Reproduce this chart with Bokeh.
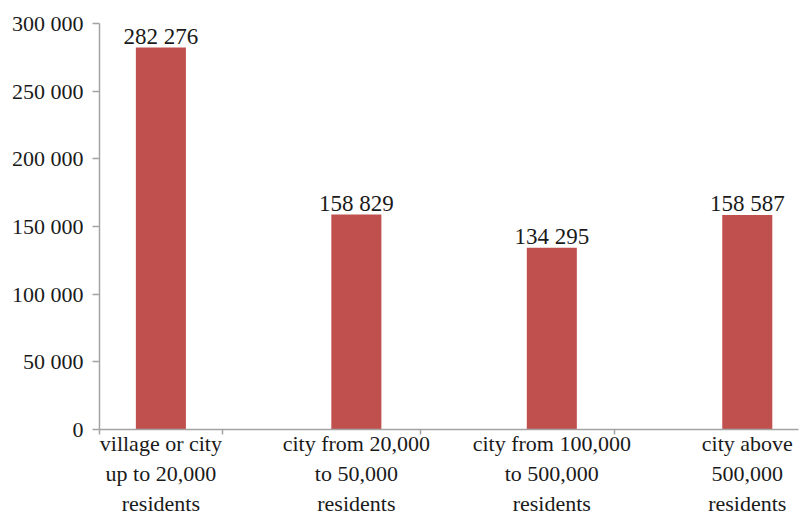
from bokeh.plotting import figure
from bokeh.models import Range1d, FixedTicker, ColumnDataSource
from bokeh.embed import file_html
from bokeh.resources import INLINE
from bokeh.core.properties import value

categories = ["village or city\nup to 20,000\nresidents",
              "city from 20,000\nto 50,000\nresidents",
              "city from 100,000\nto 500,000\nresidents",
              "city above\n500,000\nresidents"]
values = [282276, 158829, 134295, 158587]
value_labels = ["282 276", "158 829", "134 295", "158 587"]
y_ticks = [0, 50000, 100000, 150000, 200000, 250000, 300000]
y_tick_labels = ["0", "50 000", "100 000", "150 000", "200 000", "250 000", "300 000"]

FONT = "Liberation Serif"
TXT = "#1a1a1a"
AX = "#a3a3a3"
BAR = "#c0504d"

xs = list(range(len(values)))
src = ColumnDataSource(dict(x=xs, top=values, lab=value_labels))

p = figure(width=801, height=518, output_backend="svg", toolbar_location=None,
           x_range=Range1d(-0.314, 3.262), y_range=Range1d(0, 300000),
           min_border_left=99, min_border_right=3, min_border_top=23, min_border_bottom=89)
p.outline_line_color = None
p.xgrid.visible = False
p.ygrid.visible = False
p.background_fill_color = "white"
p.border_fill_color = "white"

p.vbar(x="x", top="top", width=0.256, source=src, fill_color=BAR, line_color=None)
p.text(x="x", y="top", text="lab", source=src, text_align="center", text_baseline="alphabetic",
       y_offset=-11, text_font=value(FONT), text_font_size="23px", text_color=TXT)

# x axis
xa = p.xaxis[0]
xa.ticker = FixedTicker(ticks=xs, minor_ticks=[-0.313, 0.315, 1.33, 2.32])
xa.major_label_overrides = {i: c for i, c in enumerate(categories)}
xa.major_tick_line_color = None
xa.major_tick_out = 0
xa.major_tick_in = 0
xa.minor_tick_out = 5
xa.minor_tick_in = 0
xa.minor_tick_line_color = AX
xa.minor_tick_line_width = 1.5
xa.axis_line_color = AX
xa.axis_line_width = 1.5
xa.major_label_standoff = -4
xa.major_label_text_font = FONT
xa.major_label_text_font_size = "22px"
xa.major_label_text_color = TXT
xa.major_label_text_line_height = 1.2

# y axis
ya = p.yaxis[0]
ya.ticker = FixedTicker(ticks=y_ticks)
ya.major_label_overrides = {t: l for t, l in zip(y_ticks, y_tick_labels)}
ya.minor_tick_line_color = None
ya.major_tick_out = 7
ya.major_tick_in = 0
ya.major_tick_line_color = AX
ya.major_tick_line_width = 1.5
ya.axis_line_color = AX
ya.axis_line_width = 1.5
ya.major_label_standoff = 9
ya.major_label_text_font = FONT
ya.major_label_text_font_size = "22px"
ya.major_label_text_color = TXT

open("out.html", "w").write(file_html(p, INLINE))
